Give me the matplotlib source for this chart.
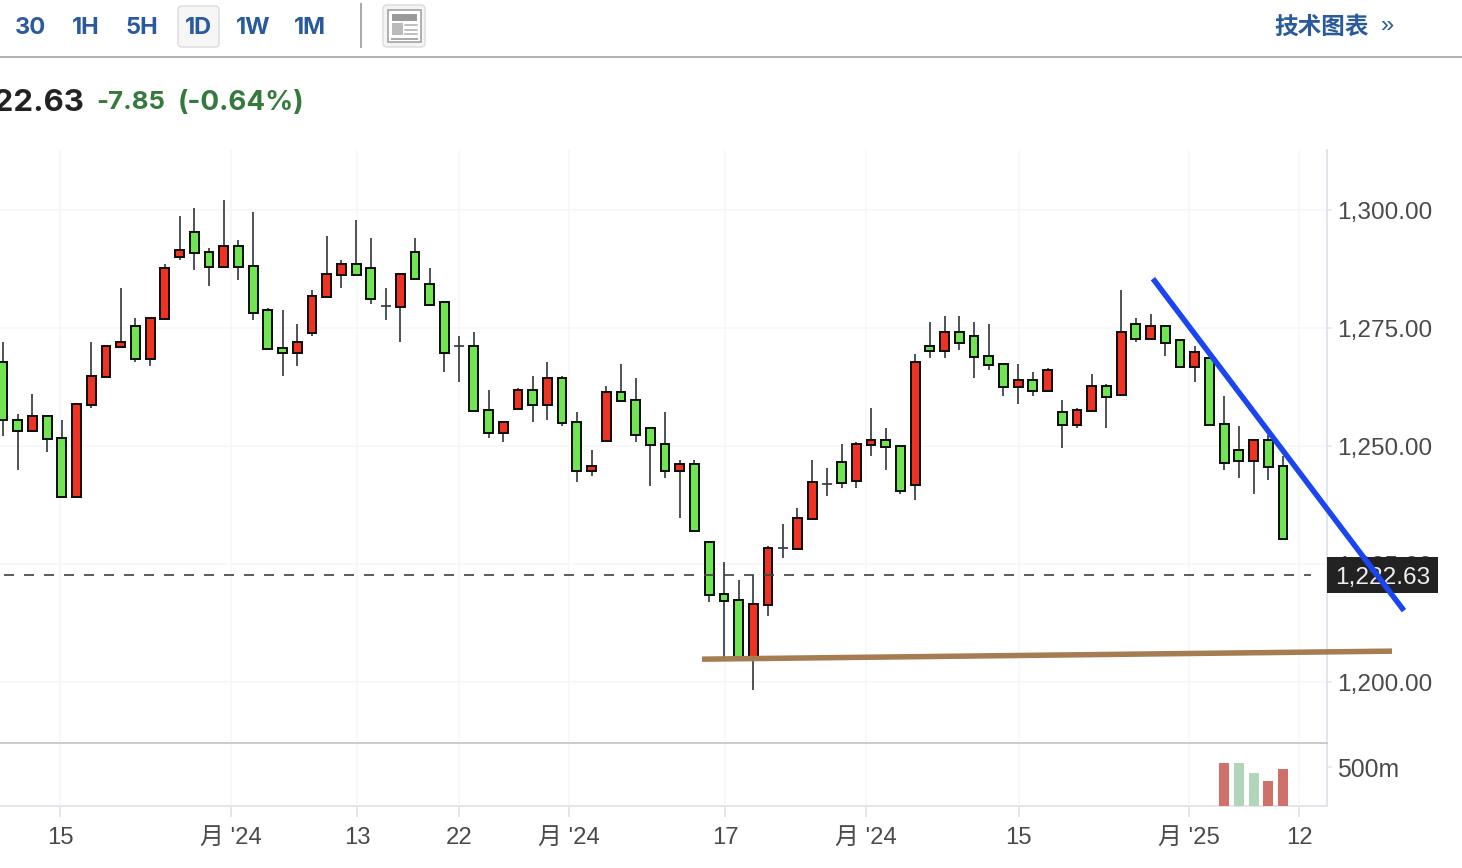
import matplotlib
matplotlib.use('Agg')
import matplotlib.pyplot as plt
from matplotlib.patches import FancyBboxPatch, Rectangle

opens = [
    1267.76, 1255.47, 1253.23, 1256.32, 1251.66, 1239.24, 1258.73, 1264.66, 1271.02, 1275.39,
    1268.48, 1276.95, 1290.09, 1295.30, 1291.06, 1287.97, 1292.33, 1288.10, 1278.78, 1270.72,
    1269.75, 1273.99, 1281.61, 1286.28, 1288.52, 1287.67, 1279.62, 1279.49, 1291.06, 1284.28,
    1280.47, 1271.15, 1271.15, 1257.59, 1252.80, 1257.89, 1261.83, 1258.73, 1264.37, 1255.05,
    1244.75, 1251.10, 1261.40, 1259.71, 1253.78, 1250.39, 1244.75, 1246.15, 1229.62, 1218.60,
    1217.34, 1204.77, 1216.36, 1228.35, 1228.22, 1234.58, 1241.91, 1246.57, 1242.63, 1250.26,
    1251.24, 1249.96, 1241.78, 1271.15, 1270.17, 1274.11, 1273.27, 1269.03, 1267.34, 1262.55,
    1263.94, 1261.70, 1257.17, 1254.50, 1257.46, 1262.67, 1260.85, 1275.81, 1272.72, 1275.39,
    1272.42, 1266.78, 1268.60, 1254.62, 1249.12, 1246.87, 1251.24, 1245.73,
]
closes = [
    1255.47, 1253.23, 1256.32, 1251.53, 1239.24, 1258.86, 1264.79, 1271.15, 1272.00, 1268.48,
    1277.08, 1287.67, 1291.49, 1290.94, 1287.97, 1292.33, 1287.97, 1278.22, 1270.60, 1269.75,
    1272.00, 1281.74, 1286.40, 1288.52, 1286.28, 1281.19, 1279.62, 1286.40, 1285.43, 1279.92,
    1269.75, 1271.15, 1257.46, 1252.80, 1255.05, 1261.83, 1258.73, 1264.37, 1254.92, 1244.75,
    1245.73, 1261.40, 1259.58, 1252.38, 1250.26, 1244.75, 1246.15, 1232.04, 1218.48, 1217.21,
    1204.77, 1216.49, 1228.35, 1228.35, 1234.71, 1242.33, 1241.91, 1242.21, 1250.39, 1251.24,
    1249.84, 1240.51, 1267.76, 1270.17, 1274.11, 1271.87, 1268.90, 1267.21, 1262.55, 1263.94,
    1261.70, 1266.06, 1254.50, 1257.59, 1262.67, 1260.43, 1274.11, 1272.72, 1275.39, 1271.87,
    1266.78, 1269.88, 1254.50, 1246.45, 1246.87, 1251.24, 1245.60, 1230.34,
]
highs = [
    1272.14, 1256.89, 1261.13, 1256.32, 1255.62, 1258.86, 1272.14, 1271.15, 1283.58, 1277.23,
    1277.08, 1288.67, 1298.84, 1300.53, 1292.06, 1302.23, 1293.75, 1299.69, 1279.35, 1278.92,
    1275.96, 1283.16, 1294.60, 1289.52, 1298.00, 1294.18, 1283.58, 1286.40, 1294.18, 1287.82,
    1280.47, 1273.41, 1274.26, 1261.97, 1255.05, 1262.40, 1264.94, 1267.91, 1264.94, 1257.31,
    1249.26, 1262.82, 1267.48, 1264.52, 1253.78, 1257.31, 1247.14, 1247.14, 1229.62, 1225.54,
    1221.72, 1222.71, 1228.93, 1233.58, 1236.97, 1247.14, 1245.45, 1250.53, 1250.96, 1258.16,
    1253.92, 1249.96, 1269.60, 1276.38, 1277.65, 1277.65, 1276.38, 1275.96, 1267.34, 1267.48,
    1265.79, 1266.49, 1259.86, 1258.01, 1265.37, 1263.24, 1283.16, 1277.23, 1278.07, 1275.39,
    1272.42, 1271.30, 1268.60, 1260.70, 1254.35, 1251.24, 1252.44, 1247.84,
]
lows = [
    1252.23, 1245.03, 1253.23, 1248.84, 1239.24, 1239.24, 1258.16, 1264.66, 1271.02, 1267.91,
    1267.06, 1276.95, 1289.52, 1287.40, 1284.01, 1287.97, 1285.28, 1276.80, 1270.60, 1264.94,
    1267.06, 1273.41, 1281.61, 1283.58, 1286.28, 1280.19, 1276.80, 1272.14, 1285.43, 1279.92,
    1265.79, 1263.67, 1257.46, 1251.81, 1250.96, 1257.89, 1255.19, 1255.62, 1254.35, 1242.48,
    1243.75, 1251.10, 1259.58, 1250.96, 1241.64, 1243.33, 1234.86, 1232.04, 1217.06, 1204.77,
    1204.77, 1198.42, 1214.10, 1226.38, 1228.22, 1234.58, 1239.52, 1241.21, 1241.21, 1247.99,
    1245.03, 1239.94, 1238.67, 1268.75, 1268.75, 1270.45, 1264.52, 1266.21, 1260.70, 1259.01,
    1260.70, 1261.70, 1249.69, 1253.92, 1257.46, 1253.92, 1260.85, 1272.14, 1272.72, 1269.18,
    1266.78, 1263.67, 1254.50, 1245.03, 1243.33, 1239.94, 1242.90, 1230.34,
]

vol_index = [83, 84, 85, 86, 87]
vol_values = [551, 551, 423, 320, 474]
vol_colors = ['#cf706b', '#b1d5b8', '#b1d5b8', '#cf706b', '#cf706b']

price_ticks = [1200, 1225, 1250, 1275, 1300]
price_labels = ['1,200.00', '1,225.00', '1,250.00', '1,275.00', '1,300.00']
date_pos = [3.90, 15.50, 24.06, 31.00, 38.47, 49.07, 58.66, 69.05, 80.60, 88.09]
date_labels = ['15', "月 '24", '13', '22', "月 '24", '17', "月 '24", '15', "月 '25", '12']
last_price = 1222.63

blue_x = [78.16, 95.22]
blue_y = [1285.49, 1215.16]
brown_x = [47.51, 94.41]
brown_y = [1204.88, 1206.58]

GRID = '#f6f7f9'
AXIS = '#e2e5ec'
TXT = '#4a4a4a'
BLUE_TXT = '#2a5a9e'
UI_FONT = ['Inter', 'Noto Sans CJK SC', 'DejaVu Sans']
plt.rcParams['font.family'] = ['Liberation Sans', 'Noto Sans CJK SC']

W, H = 1462, 868
px = 72 / 100  # one pixel in points
fig = plt.figure(figsize=(W / 100, H / 100), dpi=100, facecolor='white')

ax = fig.add_axes([0, (H - 743) / H, 1327 / W, (743 - 150) / H], zorder=1)
vol = fig.add_axes([0, (H - 806) / H, 1327 / W, (806 - 743) / H], zorder=1)
xlim = (-0.204, 89.99)

# price panel
ax.set_xlim(*xlim)
ax.set_ylim(1187.12, 1312.75)
ax.set_xticks(date_pos)
ax.set_yticks(price_ticks)
ax.set_xticklabels([])
ax.set_yticklabels(price_labels, fontsize=17.6, color=TXT)
ax.yaxis.tick_right()
ax.tick_params(axis='y', length=5 * px, width=1.5 * px, color=AXIS, pad=3.8)
ax.tick_params(axis='x', length=0)
ax.grid(True, color=GRID, lw=1.5 * px)
ax.set_axisbelow(True)
for name in ['top', 'left', 'bottom']:
    ax.spines[name].set_visible(False)
ax.spines['right'].set_color(AXIS)
ax.spines['right'].set_linewidth(2 * px)

idx = list(range(len(opens)))
ax.vlines(idx, lows, highs, color='#333b3f', lw=1.7 * px, zorder=3)
for i in idx:
    if opens[i] == closes[i]:
        ax.hlines(opens[i], i - 0.34, i + 0.34, color='#333b3f', lw=1.7 * px, zorder=3)
        continue
    face = '#ee3323' if closes[i] > opens[i] else '#71e452'
    ax.bar(i, closes[i] - opens[i], bottom=opens[i], width=0.6, color=face,
           edgecolor='#111111', linewidth=2 * px, zorder=4)

ax.plot([0.07, 88.9], [last_price, last_price], color='#444444', lw=1.7 * px,
        dashes=(10 / 1.7, 10 / 1.7), zorder=5)

# volume panel
vol.set_xlim(*xlim)
vol.set_ylim(0, 808)
vol.bar(vol_index, vol_values, width=0.68, color=vol_colors, zorder=3)
vol.set_xticks(date_pos)
vol.set_xticklabels(date_labels, fontsize=17.2, color=TXT)
vol.set_yticks([500])
vol.set_yticklabels(['500m'], fontsize=17.8, color=TXT)
vol.yaxis.tick_right()
vol.tick_params(axis='y', length=5 * px, width=1.5 * px, color=AXIS, pad=3.8)
vol.tick_params(axis='x', length=11 * px, width=2 * px, color=AXIS, pad=7)
vol.grid(True, axis='x', color=GRID, lw=1.5 * px)
vol.set_axisbelow(True)
vol.spines['left'].set_visible(False)
vol.spines['right'].set_color(AXIS)
vol.spines['right'].set_linewidth(2 * px)
vol.spines['bottom'].set_color(AXIS)
vol.spines['bottom'].set_linewidth(2 * px)
vol.spines['top'].set_color('#cccccc')
vol.spines['top'].set_linewidth(2 * px)

# page furniture, drawn in pixel coordinates
top = fig.add_axes([0, 0, 1, 1], zorder=0)
top.set_xlim(0, W)
top.set_ylim(H, 0)
top.axis('off')

top.add_patch(FancyBboxPatch((178, 6), 41, 41, boxstyle='round,pad=0,rounding_size=4',
                             fc='#f6f6f7', ec='#dddddd', lw=1.5 * px, zorder=0))
for label, x in zip(['30', '1H', '5H', '1D', '1W', '1M'], [30, 85.5, 142, 198, 253, 309.5]):
    top.text(x, 28, label, fontsize=17, color=BLUE_TXT, weight='bold', family=UI_FONT,
             ha='center', va='center')
top.plot([361, 361], [4, 47], color='#aaaaaa', lw=2 * px)
top.add_patch(FancyBboxPatch((383, 5), 42, 42, boxstyle='round,pad=0,rounding_size=4',
                             fc='#f4f4f4', ec='#dddddd', lw=1.5 * px))
top.add_patch(Rectangle((388, 10), 33, 32, fc='white', ec='#999999', lw=1.5 * px))
top.add_patch(Rectangle((392, 14), 25, 7, fc='#999999', ec='none'))
top.add_patch(Rectangle((392, 23), 11, 12, fc='#bbbbbb', ec='none'))
for ly in [24.5, 29.5, 33.5]:
    top.plot([405, 417], [ly, ly], color='#aaaaaa', lw=1.5 * px)
top.plot([392, 417], [38.5, 38.5], color='#aaaaaa', lw=2 * px)
top.plot([0, W], [57, 57], color='#b2b2b2', lw=2 * px)
top.text(1322, 27.5, '技术图表', fontsize=17, color=BLUE_TXT, weight='bold', ha='center', va='center')
top.text(1387.5, 26.5, '»', fontsize=17, color=BLUE_TXT, ha='center', va='center')

top.text(84.5, 103, '1,222.63', fontsize=22.5, color='#222222', weight='bold', family=UI_FONT,
         ha='right', va='center')
top.text(96, 102.5, '-7.85', fontsize=18.6, color='#357a3c', weight='bold', family=UI_FONT,
         ha='left', va='center')
top.text(178, 102.5, '(-0.64%)', fontsize=20, color='#357a3c', weight='bold', family=UI_FONT,
         ha='left', va='center')

# last price flag covers the axis label under it
flag = fig.add_axes([1327 / W, (H - 593) / H, 111 / W, 36 / H], zorder=2)
flag.set_facecolor('#222222')
flag.set_xticks([])
flag.set_yticks([])
for s in flag.spines.values():
    s.set_visible(False)
flag.text(0.5, 0.43, f'{last_price:,.2f}', fontsize=17.6, color='#eeeeee', ha='center', va='center',
          transform=flag.transAxes)

# trend lines sit on top of everything, still in price coordinates
over = fig.add_axes([0, 0, 1, 1], zorder=3)
over.axis('off')
over.plot(brown_x, brown_y, color='#a67c52', lw=5.5 * px, solid_capstyle='butt', transform=ax.transData)
over.plot(blue_x, blue_y, color='#1a45f0', lw=5.5 * px, solid_capstyle='butt', transform=ax.transData)

fig.savefig('out.png', dpi=100)
